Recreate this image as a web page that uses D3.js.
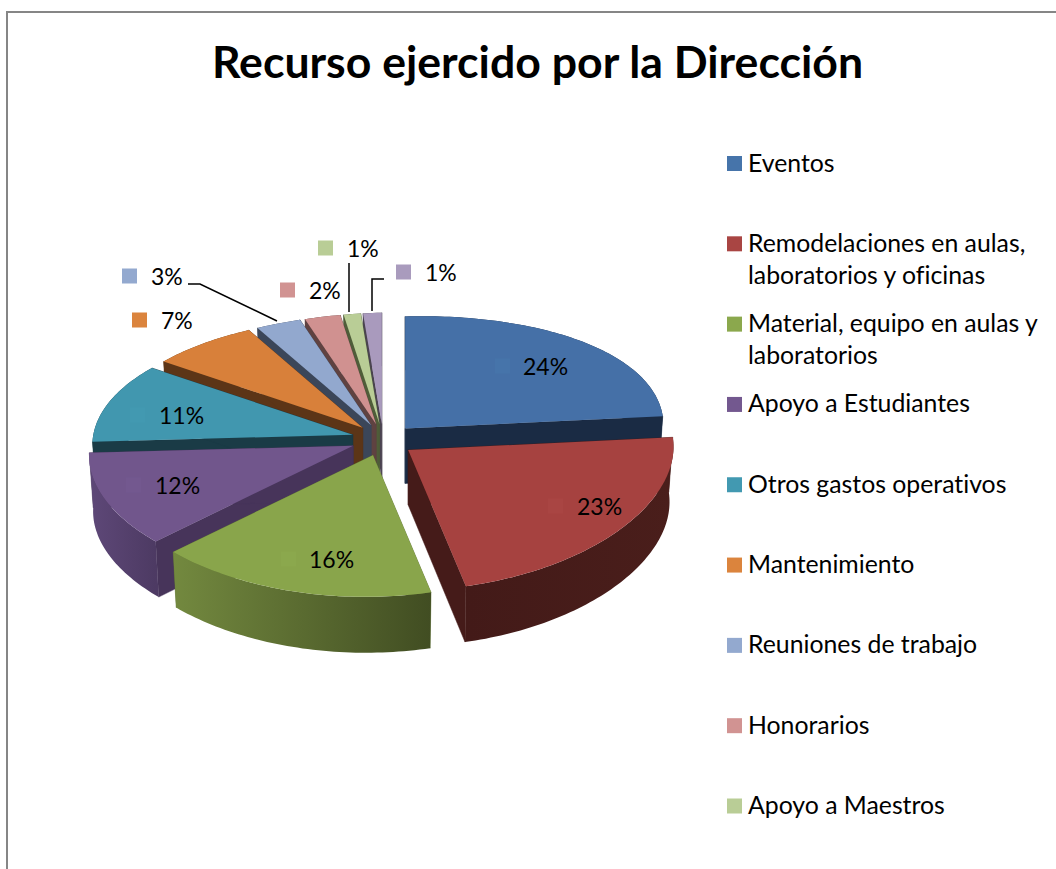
<!DOCTYPE html>
<html><head><meta charset="utf-8">
<script src="https://cdn.jsdelivr.net/npm/d3@7/dist/d3.min.js"></script>
<style>html,body{margin:0;padding:0;background:#fff;overflow:hidden}text{font-family:Lato,"Noto Sans",sans-serif;fill:#000;font-variant-ligatures:none}</style>
</head><body><div id="chart"></div>
<script>
const titleText = "Recurso ejercido por la Dirección";
const categories = [["Eventos"],["Remodelaciones en aulas,","laboratorios y oficinas"],["Material, equipo en aulas y","laboratorios"],["Apoyo a Estudiantes"],["Otros gastos operativos"],["Mantenimiento"],["Reuniones de trabajo"],["Honorarios"],["Apoyo a Maestros"]];
const values = [24.3,22.6,16.4,11.7,10.6,6.9,2.9,2.3,1.1,1.2];
const topColors = ["#4570A7","#A64240","#89A54B","#71568C","#4197AF","#D8803A","#92A8CE","#D09190","#B9CD96","#A99ABD"];
const sideColors = ["#1A2B44","#451B19","#5F7235","#47345A","#1A3B46","#5C3517","#3B4659","#5F4241","#4F5D39","#4A4350"];
const sideEdge = ["#1A2B44","#431A18","#73893F","#5E4878","#1A3B46","#5C3517","#3B4659","#5F4241","#4F5D39","#4A4350"];
const sideEdge2 = ["#1A2B44","#4A1E1B","#414D22","#4D3A63","#1A3B46","#5C3517","#3B4659","#5F4241","#4F5D39","#4A4350"];
const keyColors=["#4674AA","#A94543","#8BA84D","#73588F","#4299B1","#DB843D","#93A9CF","#D19392","#B9CD96","#A99BBD"];
// label layout: [key x, key y centre, text x]
const labelLayout = [[495,366,523],[548,506,577],[281,559,309],[126,485,155],[130,415,159],[132,320,161],[122,276,151],[280,290,309],[318,248,347],[396,272,425]];
const leaders = [null,null,null,null,null,null,[[188,284],[200,284],[277,321]],null,[[349,263],[349,312]],[[384,279],[372,279],[372,311]]];

const W=1056,H=869;
const svg=d3.select("#chart").append("svg").attr("width",W).attr("height",H).style("display","block");
const defs=svg.append("defs");
svg.append("rect").attr("x",7).attr("y",12).attr("width",W+20).attr("height",H+20).attr("fill","#fff").attr("stroke","#868686").attr("stroke-width",2);

svg.append("text").attr("x",537.5).attr("y",78).attr("text-anchor","middle").attr("font-weight",700).attr("font-size",44.6).text(titleText);

const C={x:383,y:440}, explode=32, explodeK=0.5;
const rx=262,a=125,p=0.10,skew=7,depth=55;
function proj(theta,scale){
  const X=Math.sin(theta),Y=-Math.cos(theta);
  const s=1/(1-p*Y);
  return [scale*(rx*X*(1+0.03*Y)+5*Y*Y*(Y>0?1:0)), scale*(a*Y*s - skew*X)];
}
const pie=d3.pie().sort(null).value(d=>d)(values);
const fmt=v=>Math.round(v)+"%";
const slices=pie.map((d,i)=>{
  const mid=(d.startAngle+d.endAngle)/2;
  return {i,a0:d.startAngle,a1:d.endAngle,mid,ax:C.x+explode*Math.sin(mid),ay:C.y-explode*explodeK*Math.cos(mid),k:1-0.02*Math.cos(mid)};
});
const line=d3.line();
function arcPts(s,scale,bottom){
  const n=Math.max(4,Math.ceil((s.a1-s.a0)/0.02));
  return d3.range(n+1).map(i=>{
    const t=s.a0+(s.a1-s.a0)*i/n, q=proj(t,scale*s.k);
    return [s.ax+q[0],s.ay+q[1]+(bottom?depth-3*Math.cos(t):0)];
  });
}
const order=[9,8,7,6,5,4,0,3,1,2];
const g=svg.append("g");
order.forEach(i=>{
  const s=slices[i];
  const top=arcPts(s,1,false), bot=arcPts(s,0.985,true);
  const A=[s.ax,s.ay],B=[s.ax,s.ay+depth];
  [[top[0],bot[0]],[top[top.length-1],bot[bot.length-1]]].forEach(e=>{
    g.append("path").attr("d",line([A,e[0],e[1],B])+"Z").attr("fill",sideColors[i]).attr("stroke",sideColors[i]).attr("stroke-width",.5);
  });
  const xs=top.map(q=>q[0]);
  const gid="side"+i;
  const lg=defs.append("linearGradient").attr("id",gid).attr("gradientUnits","userSpaceOnUse").attr("x1",d3.min(xs)).attr("x2",d3.max(xs)).attr("y1",0).attr("y2",0);
  lg.append("stop").attr("offset",0).attr("stop-color",sideEdge[i]);
  lg.append("stop").attr("offset",1).attr("stop-color",sideEdge2[i]);
  g.append("path").attr("d",line(top.concat(bot.slice().reverse()))+"Z").attr("fill",`url(#${gid})`);
  g.append("path").attr("d",line([A].concat(top))+"Z").attr("fill",topColors[i]);
});

leaders.forEach(l=>{ if(l) svg.append("path").attr("d",line(l)).attr("fill","none").attr("stroke","#000").attr("stroke-width",1.5); });

values.forEach((v,i)=>{
  const L=labelLayout[i];
  svg.append("rect").attr("x",L[0]).attr("y",L[1]-7.5).attr("width",15).attr("height",15).attr("fill",keyColors[i]);
  svg.append("text").attr("x",L[2]).attr("y",L[1]+8.5).attr("font-size",23).text(fmt(v));
});

const legendY=d3.scaleLinear().domain([0,8]).range([163.5,806]);
categories.forEach((lines,i)=>{
  const y=legendY(i);
  svg.append("rect").attr("x",727).attr("y",y-7.5).attr("width",15).attr("height",15).attr("fill",keyColors[i]);
  lines.forEach((t,k)=>svg.append("text").attr("x",748).attr("y",y+8+k*32).attr("font-size",24.8).text(t));
});
</script></body></html>
